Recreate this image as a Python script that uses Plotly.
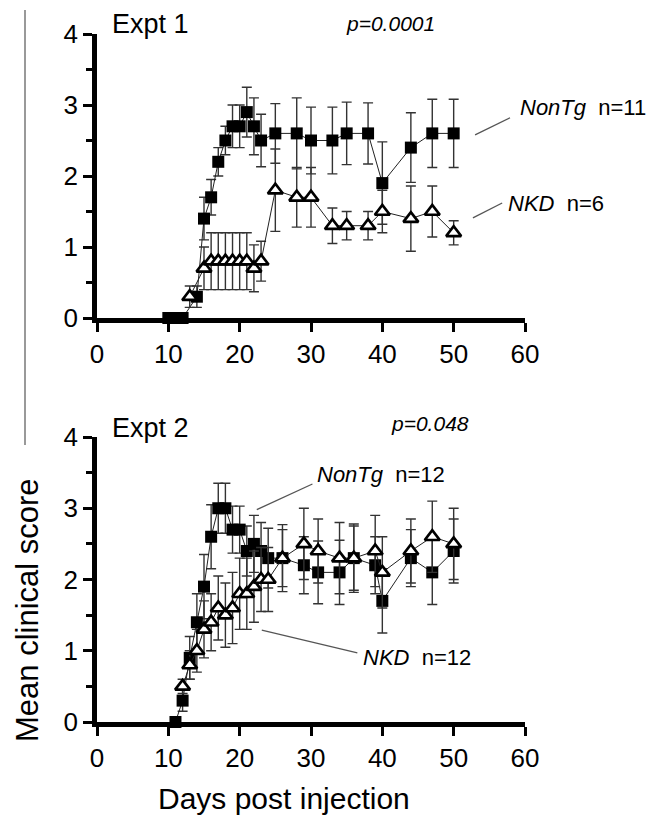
import plotly.graph_objects as go

# ---------------- data ----------------
days1_nontg = [10, 11, 12, 14, 15, 16, 17, 18, 19, 20, 21, 22, 23, 25, 28, 30, 33, 35, 38, 40, 44, 47, 50]
score1_nontg = [0, 0, 0, 0.3, 1.4, 1.7, 2.2, 2.5, 2.7, 2.7, 2.9, 2.7, 2.5, 2.6, 2.6, 2.5, 2.5, 2.6, 2.6, 1.9, 2.4, 2.6, 2.6]
err1_nontg = [0, 0, 0, 0.15, 0.3, 0.25, 0.2, 0.2, 0.3, 0.3, 0.35, 0.4, 0.37, 0.42, 0.5, 0.47, 0.47, 0.44, 0.43, 0.58, 0.49, 0.48, 0.48]

days1_nkd = [13, 15, 16, 17, 18, 19, 20, 21, 22, 23, 25, 28, 30, 33, 35, 38, 40, 44, 47, 50]
score1_nkd = [0.3, 0.7, 0.8, 0.8, 0.8, 0.8, 0.8, 0.8, 0.7, 0.8, 1.8, 1.7, 1.7, 1.3, 1.3, 1.3, 1.5, 1.4, 1.5, 1.2]
err1_nkd = [0.15, 0.3, 0.4, 0.4, 0.4, 0.4, 0.4, 0.4, 0.33, 0.28, 0.58, 0.42, 0.42, 0.25, 0.2, 0.2, 0.3, 0.46, 0.36, 0.17]

days2_nontg = [11, 12, 13, 14, 15, 16, 17, 18, 19, 20, 21, 22, 23, 24, 26, 29, 31, 34, 36, 39, 40, 44, 47, 50]
score2_nontg = [0, 0.3, 0.9, 1.4, 1.9, 2.6, 3.0, 3.0, 2.7, 2.7, 2.4, 2.5, 2.4, 2.3, 2.3, 2.2, 2.1, 2.1, 2.3, 2.2, 1.7, 2.3, 2.1, 2.4]
err2_nontg = [0, 0.15, 0.3, 0.4, 0.45, 0.45, 0.35, 0.35, 0.33, 0.33, 0.35, 0.4, 0.4, 0.42, 0.47, 0.4, 0.44, 0.45, 0.48, 0.4, 0.45, 0.4, 0.45, 0.45]

days2_nkd = [12, 13, 14, 15, 16, 17, 18, 19, 20, 21, 22, 23, 24, 26, 29, 31, 34, 36, 39, 40, 44, 47, 50]
score2_nkd = [0.5, 0.8, 1.0, 1.3, 1.4, 1.6, 1.5, 1.6, 1.8, 1.8, 1.9, 2.0, 2.0, 2.3, 2.5, 2.4, 2.3, 2.3, 2.4, 2.1, 2.4, 2.6, 2.5]
err2_nkd = [0.1, 0.2, 0.3, 0.4, 0.4, 0.45, 0.45, 0.5, 0.5, 0.5, 0.5, 0.45, 0.45, 0.4, 0.5, 0.45, 0.5, 0.45, 0.5, 0.5, 0.45, 0.5, 0.5]

panel_titles = ["Expt 1", "Expt 2"]
p_values = ["p=0.0001", "p=0.048"]
n_nontg = ["n=11", "n=12"]
n_nkd = ["n=6", "n=12"]
x_ticks = [0, 10, 20, 30, 40, 50, 60]
y_ticks = [0, 1, 2, 3, 4]

FONT = "Arial, Liberation Sans, sans-serif"

fig = go.Figure()


def add_series(xs, ys, es, xa, ya, kind):
    if kind == "sq":
        marker = dict(symbol="square", size=12, color="black", line=dict(width=0))
    else:
        marker = dict(symbol="triangle-up", size=13, color="white",
                      line=dict(color="black", width=2.7))
    fig.add_trace(go.Scatter(
        x=xs, y=ys, xaxis=xa, yaxis=ya, mode="lines+markers",
        line=dict(color="#222222", width=1),
        marker=marker,
        error_y=dict(type="data", array=es, visible=True, color="#333333",
                     thickness=1.4, width=5),
        cliponaxis=False, showlegend=False, hoverinfo="skip"))


add_series(days1_nontg, score1_nontg, err1_nontg, "x", "y", "sq")
add_series(days1_nkd, score1_nkd, err1_nkd, "x", "y", "tri")
add_series(days2_nontg, score2_nontg, err2_nontg, "x2", "y2", "sq")
add_series(days2_nkd, score2_nkd, err2_nkd, "x2", "y2", "tri")

axis_common = dict(
    range=[0, 60], showgrid=False, zeroline=False, showline=True,
    linecolor="black", linewidth=4.5, ticks="outside", ticklen=9, tickwidth=3,
    tickcolor="black", tickvals=x_ticks, ticktext=[str(v) for v in x_ticks],
    tickfont=dict(family=FONT, size=26, color="black"), layer="below traces",
)
yaxis_common = dict(
    range=[0, 4], showgrid=False, zeroline=False, showline=True,
    linecolor="black", linewidth=4.5, ticks="outside", ticklen=9, tickwidth=3,
    tickcolor="black", tickvals=y_ticks, ticktext=[str(v) for v in y_ticks],
    tickfont=dict(family=FONT, size=26, color="black"), layer="below traces",
    minor=dict(dtick=0.5, ticks="outside", ticklen=6, tickwidth=3, tickcolor="black"),
)

top_dom = [(722 - 318) / 688, 1.0]
bot_dom = [0.0, (722 - 437) / 688]

# page body adds an 8px offset, so margins are reduced by 8 on left/top
fig.update_layout(
    width=661, height=824,
    margin=dict(l=89, r=144, t=26, b=110),
    paper_bgcolor="white", plot_bgcolor="white",
    xaxis=dict(axis_common, domain=[0, 1], anchor="y"),
    yaxis=dict(yaxis_common, domain=top_dom, anchor="x"),
    xaxis2=dict(axis_common, domain=[0, 1], anchor="y2"),
    yaxis2=dict(yaxis_common, domain=bot_dom, anchor="x2"),
    font=dict(family=FONT, color="black"),
)


def px(sx):
    return (sx - 97) / 428


def py(sy):
    return (722 - sy) / 688


ann = []
# panel titles
ann.append(dict(x=px(111), y=1.0 + 26 / 688, xref="paper", yref="paper", text=panel_titles[0],
                showarrow=False, xanchor="left", yanchor="top", borderpad=0,
                font=dict(size=27)))
ann.append(dict(x=px(111), y=py(428), xref="paper", yref="paper", text=panel_titles[1],
                showarrow=False, xanchor="left", yanchor="middle", borderpad=0,
                font=dict(size=27)))
# p values
ann.append(dict(x=px(345), y=py(24), xref="paper", yref="paper",
                text="<i>" + p_values[0] + "</i>", showarrow=False, borderpad=0,
                xanchor="left", yanchor="middle", font=dict(size=21)))
ann.append(dict(x=px(390), y=py(423), xref="paper", yref="paper",
                text="<i>" + p_values[1] + "</i>", showarrow=False, borderpad=0,
                xanchor="left", yanchor="middle", font=dict(size=21)))
# series labels
ann.append(dict(x=px(518), y=py(108), xref="paper", yref="paper",
                text="<i>NonTg</i>&nbsp;&nbsp;" + n_nontg[0], showarrow=False,
                xanchor="left", yanchor="middle", font=dict(size=22)))
ann.append(dict(x=px(506), y=py(203), xref="paper", yref="paper",
                text="<i>NKD</i>&nbsp;&nbsp;" + n_nkd[0], showarrow=False,
                xanchor="left", yanchor="middle", font=dict(size=22)))
ann.append(dict(x=px(315), y=py(475), xref="paper", yref="paper",
                text="<i>NonTg</i>&nbsp;&nbsp;" + n_nontg[1], showarrow=False,
                xanchor="left", yanchor="middle", font=dict(size=22)))
ann.append(dict(x=px(361), y=py(657), xref="paper", yref="paper",
                text="<i>NKD</i>&nbsp;&nbsp;" + n_nkd[1], showarrow=False,
                xanchor="left", yanchor="middle", font=dict(size=22)))
# axis titles
ann.append(dict(x=px(284), y=py(798), xref="paper", yref="paper",
                text="Days post injection", showarrow=False, xanchor="center",
                yanchor="middle", font=dict(size=30)))
ann.append(dict(x=px(27), y=py(610), xref="paper", yref="paper",
                text="Mean clinical score", showarrow=False, textangle=-90,
                xanchor="center", yanchor="middle", borderpad=0, font=dict(size=31)))
fig.update_layout(annotations=ann)

shapes = []
lc = dict(color="#555555", width=1.3)
shapes.append(dict(type="line", xref="x", yref="y", x0=53.0, y0=2.58, x1=57.9, y1=2.82, line=lc))
shapes.append(dict(type="line", xref="x", yref="y", x0=52.7, y0=1.41, x1=56.8, y1=1.62, line=lc))
shapes.append(dict(type="line", xref="x2", yref="y2", x0=22.4, y0=2.98, x1=30.2, y1=3.34, line=lc))
shapes.append(dict(type="line", xref="x2", yref="y2", x0=23.1, y0=1.29, x1=36.5, y1=0.97, line=lc))
# long vertical line above y title
shapes.append(dict(type="line", xref="paper", yref="paper",
                   x0=px(25), x1=px(25), y0=py(445), y1=py(10),
                   line=dict(color="#777777", width=1.5)))
fig.update_layout(shapes=shapes)

fig.write_html("out.html")
